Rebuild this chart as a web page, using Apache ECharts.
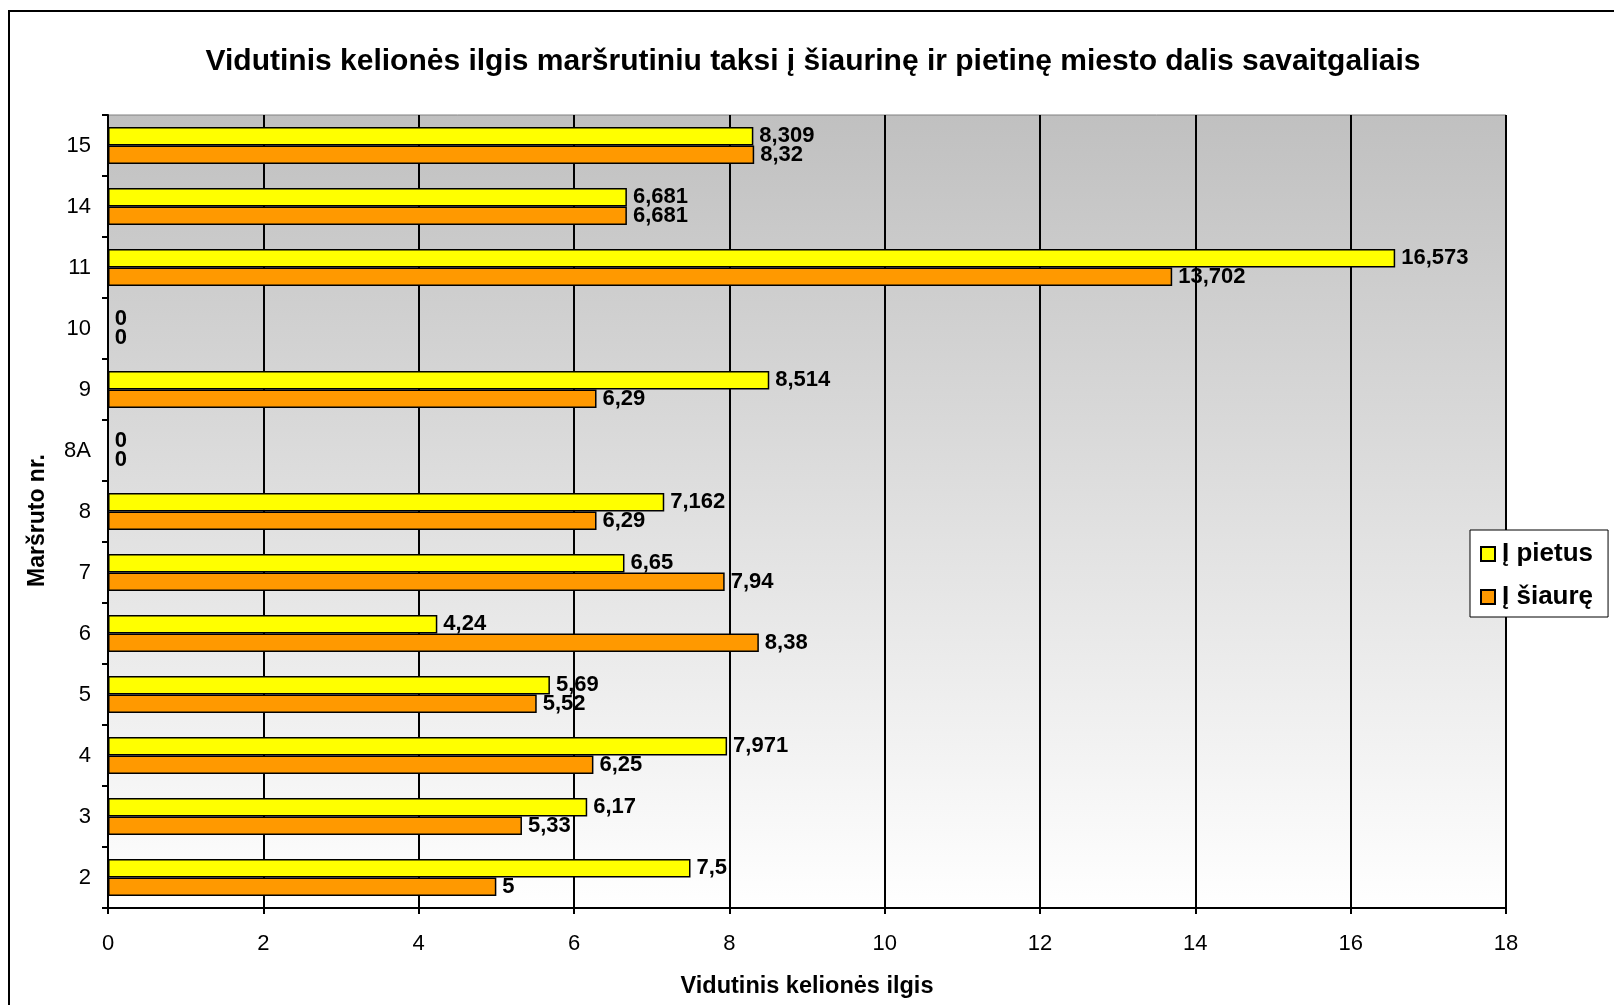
<!DOCTYPE html>
<html>
<head>
<meta charset="utf-8">
<script src="https://cdn.jsdelivr.net/npm/echarts@6/dist/echarts.min.js"></script>
<style>
html,body{margin:0;padding:0;background:#fff;}
#c{width:1614px;height:1005px;}
</style>
</head>
<body>
<div id="c"></div>
<script>
const categories = ['2','3','4','5','6','7','8','8A','9','10','11','14','15'];
const pietus = [7.5, 6.17, 7.971, 5.69, 4.24, 6.65, 7.162, 0, 8.514, 0, 16.573, 6.681, 8.309];
const siaure = [5, 5.33, 6.25, 5.52, 8.38, 7.94, 6.29, 0, 6.29, 0, 13.702, 6.681, 8.32];
const xTicks = [0, 2, 4, 6, 8, 10, 12, 14, 16, 18];

const FONT = '"Liberation Sans", Arial, sans-serif';
const chart = echarts.init(document.getElementById('c'), null, {renderer: 'canvas'});
const fmt = p => String(p.value).replace('.', ',');
const labelStyle = {show: true, position: 'right', distance: 6, formatter: fmt,
  color: '#000', fontWeight: 'bold', fontSize: 22, fontFamily: FONT};

chart.setOption({
  animation: false,
  backgroundColor: '#fff',
  title: {
    text: 'Vidutinis kelionės ilgis maršrutiniu taksi į šiaurinę ir pietinę miesto dalis savaitgaliais',
    left: 808, top: 42, textAlign: 'center',
    textStyle: {fontFamily: FONT, fontWeight: 'bold', fontSize: 30, color: '#000'}
  },
  graphic: [{
    type: 'rect', shape: {x: 9, y: 11, width: 1700, height: 1100},
    style: {fill: 'none', stroke: '#000', lineWidth: 2}, z: -1
  }],
  legend: {
    orient: 'vertical', left: 1470, top: 530,
    padding: [11, 15, 7, 10], itemGap: 17,
    backgroundColor: '#fff', borderColor: '#000', borderWidth: 1,
    itemWidth: 14, itemHeight: 14, icon: 'rect',
    data: ['Į pietus', 'Į šiaurę'],
    textStyle: {fontFamily: FONT, fontWeight: 'bold', fontSize: 26, color: '#000', padding: [0,0,0,2]}
  },
  grid: {
    left: 108, top: 115, width: 1398, height: 793, show: true,
    borderColor: '#808080', borderWidth: 1,
    backgroundColor: new echarts.graphic.LinearGradient(0, 0, 0, 1, [
      {offset: 0, color: '#c0c0c0'}, {offset: 1, color: '#ffffff'}
    ])
  },
  xAxis: {
    type: 'value', min: 0, max: 18, interval: 2,
    name: 'Vidutinis kelionės ilgis', nameLocation: 'middle', nameGap: 67,
    nameTextStyle: {fontFamily: FONT, fontWeight: 'bold', fontSize: 23.5, color: '#000'},
    axisLine: {show: true, lineStyle: {color: '#000', width: 2}},
    axisTick: {show: true, length: 6, lineStyle: {color: '#000', width: 2}},
    axisLabel: {fontFamily: FONT, fontSize: 22, color: '#000', margin: 25,
      formatter: v => xTicks.includes(v) ? String(v) : ''},
    splitLine: {show: true, lineStyle: {color: '#000', width: 2}}
  },
  yAxis: {
    type: 'category', data: categories,
    name: 'Maršruto nr.', nameLocation: 'middle', nameGap: 59, nameRotate: 90,
    nameTextStyle: {fontFamily: FONT, fontWeight: 'bold', fontSize: 23, color: '#000', padding: [0, 18, 0, 0]},
    axisLine: {show: true, lineStyle: {color: '#000', width: 2}},
    axisTick: {show: true, length: 6, lineStyle: {color: '#000', width: 2}},
    axisLabel: {fontFamily: FONT, fontSize: 22, color: '#000', margin: 17},
    splitLine: {show: false}
  },
  series: [
    {name: 'Į pietus', type: 'bar', data: pietus, barGap: '0%', barCategoryGap: '39%',
     itemStyle: {color: '#ffff00', borderColor: '#000', borderWidth: 1.5}, label: labelStyle},
    {name: 'Į šiaurę', type: 'bar', data: siaure, barGap: '0%', barCategoryGap: '39%',
     itemStyle: {color: '#ff9900', borderColor: '#000', borderWidth: 1.5}, label: labelStyle}
  ]
});
</script>
</body>
</html>
